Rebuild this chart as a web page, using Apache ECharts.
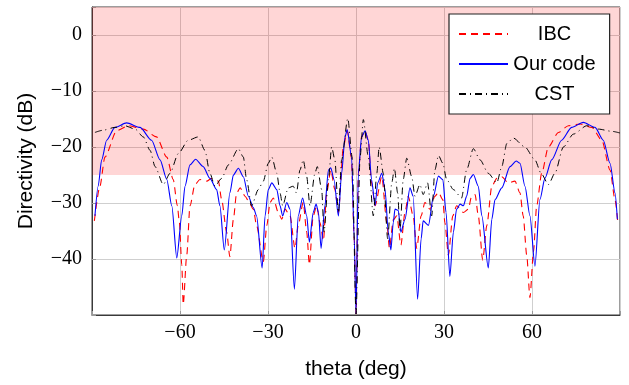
<!DOCTYPE html>
<html>
<head>
<meta charset="utf-8">
<script src="https://cdn.jsdelivr.net/npm/echarts@6/dist/echarts.min.js"></script>
<style>
  html, body { margin: 0; padding: 0; background: #fff; }
  #chart { width: 629px; height: 385px; }
</style>
</head>
<body>
<div id="chart"></div>
<script>
// directivity patterns (theta in deg, directivity in dB)
const thetaIBC = [-89.2, -87.3, -85.6, -81.6, -77.6, -72.5, -68, -64.5, -62.3, -60.9, -60.2, -59.4, -58.9, -57.7, -56.6, -54.9, -53.2, -50.9, -49.2, -46.9, -45.8, -44.1, -43, -41.8, -40.7, -39.5, -37.8, -36.7, -35, -33.9, -31.6, -30.4, -29.3, -28.2, -26.5, -25.3, -24.2, -22.5, -20.8, -19.7, -18, -16.8, -15.9, -14.6, -13.4, -12.3, -11.1, -10, -8.6, -7.2, -6, -4.3, -3, -1.6, -0.6, 0, 0.8, 1.9, 3.1, 4.2, 5.3, 6.5, 8.8, 10.5, 11.4, 12.7, 13.9, 15.3, 16.7, 17.8, 19.5, 20.7, 22.2, 23.5, 25.2, 26.9, 28.1, 29.6, 30.3, 31.5, 33, 34.3, 36.6, 38.3, 39.4, 40.6, 41.7, 43.2, 44.6, 46.3, 48, 49.7, 51.9, 54.2, 55.9, 57, 58.2, 59.3, 60.5, 61.6, 63.3, 65.6, 69, 72.4, 76.4, 80.4, 83.8, 86.6, 88.3, 89.2];
const dirIBC = [-33.2, -27, -21.8, -17.1, -16.2, -16.8, -18.2, -21.8, -25.8, -30.5, -33.5, -41, -48.1, -39.3, -30.5, -26.7, -25.8, -26.1, -25.6, -26.1, -29.4, -35.2, -39.6, -32.9, -28.2, -27.3, -28.8, -29.6, -31.1, -34, -40.5, -34, -29.9, -29.1, -31.7, -32.9, -31.1, -32.3, -38.1, -34, -29.9, -35.2, -41, -32.3, -30.5, -33.5, -36.7, -28.2, -24.1, -27.6, -31.7, -20, -17.1, -21.8, -36.4, -49.8, -24.7, -18.2, -17.1, -18.8, -26.4, -30.5, -25.3, -33.5, -38.1, -33, -32.3, -37.5, -31.7, -28.8, -32.3, -38.1, -32.3, -29.9, -31.1, -28.8, -28.1, -29.4, -33.5, -39.3, -32.3, -30.5, -31.7, -31.1, -28.8, -28.5, -32.3, -40.2, -34, -27, -25.6, -25.3, -26.4, -26.1, -28.2, -32.3, -39.3, -46.9, -38.7, -30.5, -24.7, -20, -17.4, -16.2, -15.9, -16.5, -18.8, -24.1, -29.4, -33.2];

const thetaOurs = [-89, -87.9, -86.7, -85, -82.2, -78.2, -73.6, -69.7, -66.8, -64.5, -62.8, -61.1, -59.4, -58.3, -56.6, -54.7, -52.1, -49.8, -47.5, -46.4, -44.9, -43, -41.8, -40.1, -38.4, -36.7, -35, -33.9, -32, -31, -29.9, -28.7, -27, -25.9, -25, -23.6, -22.5, -21, -19.7, -18.2, -16.8, -15.9, -14.6, -13.6, -12.8, -11.9, -10.6, -9.4, -8.6, -7.5, -6, -4.9, -3.75, -3, -1.5, -0.6, 0, 0.8, 1.9, 3.1, 4.2, 5.3, 6.5, 7.4, 8.8, 9.9, 11, 11.9, 12.7, 13.3, 14.4, 15.3, 16.7, 18.4, 19.5, 21, 22.2, 22.9, 24.7, 26.4, 28.1, 29.6, 30.7, 32, 33.2, 34.3, 35.5, 36.6, 37.7, 38.9, 40, 41.7, 42.9, 45.1, 46.3, 47.4, 49.7, 52.5, 54.6, 55.9, 57.6, 59.3, 61, 62.7, 64.4, 66.7, 70.1, 73.5, 77.5, 81.5, 84.3, 86.6, 88.3, 89.1];
const dirOurs = [-32.3, -27, -22.3, -18.8, -16.5, -15.7, -16.5, -18.8, -22.3, -25.8, -30.5, -39.8, -32.3, -27, -23.2, -22.2, -23.5, -25.6, -27.6, -30.5, -38.4, -28.2, -25, -23.8, -25.3, -28.8, -30.8, -32.3, -41.6, -32.3, -27.6, -26.4, -27.6, -30.5, -32.3, -29.9, -31.1, -45.4, -32.3, -29.1, -32.3, -37, -31.7, -30.2, -31.7, -38.1, -30.5, -24.1, -23.7, -25.8, -32.3, -24.7, -18.2, -16.9, -21.8, -36.4, -49.8, -24.7, -18.2, -17.1, -18.8, -25.8, -30.5, -26.4, -24.7, -27.6, -35.2, -38.4, -33.5, -31.1, -31.3, -35.2, -32.9, -27.3, -28.8, -47.2, -36.4, -33.2, -34, -28.8, -25.2, -25.8, -31.7, -43.1, -35.2, -31.1, -30.2, -30.5, -28.8, -25.6, -24.9, -27, -32.3, -41.6, -32.9, -29.4, -27.3, -23.5, -22.5, -22.9, -27, -32.3, -41.3, -29.4, -25.6, -22.3, -18.8, -16.5, -15.6, -16.5, -18.8, -22.9, -28.2, -32.9];

const thetaCST = [-89, -86.2, -82.2, -78.8, -75.3, -72.5, -70.2, -68.5, -65.7, -63.4, -60.6, -57.2, -53.8, -51.5, -49.8, -48.1, -45.8, -43.5, -40.1, -38.4, -37.3, -35.6, -33.3, -31.6, -29.9, -28.7, -27, -25.9, -25, -23.1, -21.4, -20.3, -19.1, -18, -16.8, -15.7, -14, -13.2, -11.7, -10.9, -9.4, -8.3, -7.2, -6, -4.9, -2.8, -1.3, 0, 1.4, 2.5, 4.2, 5.9, 7.1, 7.9, 9.3, 10.8, 12.2, 13.1, 14.2, 15, 16.1, 17.3, 19, 20.1, 21.8, 22.9, 24.4, 25.8, 26.9, 28.1, 29.6, 30.9, 33.2, 36, 37.7, 40, 42.3, 45.1, 48, 49.7, 51.4, 53.6, 57.6, 61, 63.1, 65.6, 67.8, 70.7, 74.1, 78.7, 82.6, 87.2, 90];
const dirCST = [-17.4, -17, -16.5, -16.2, -16.8, -18.2, -20.6, -23.5, -26.7, -24.7, -21.2, -18.8, -18.2, -20.6, -24.7, -27, -25.6, -23.2, -20.3, -21.8, -25.8, -30.5, -27.6, -26.1, -22.9, -21.8, -24.7, -28.2, -30.5, -27.3, -27, -28.2, -24.1, -22.3, -25.3, -30.5, -24.7, -23.5, -27.6, -35.2, -25.8, -20, -22.3, -31.7, -22.3, -14.9, -21.8, -49.8, -21.8, -15.1, -21.8, -32.3, -24.7, -20, -24.7, -36.4, -26.4, -23.8, -28.2, -34.9, -25.8, -22, -25.3, -28.8, -26.7, -28.5, -26.4, -32.3, -24.1, -21.5, -22.9, -25.8, -27.6, -29.1, -24.1, -20.3, -22.3, -24.7, -26.4, -23.5, -19.4, -18.4, -20, -22.3, -24.7, -26.7, -24.7, -20, -17.7, -16.2, -16.8, -17.2, -17.5];

const seriesNames = ['IBC', 'Our code', 'CST'];
const xTicks = [-60, -30, 0, 30, 60];
const yTicks = [-40, -30, -20, -10, 0];
const shadeFrom = -25;

const zip = (xs, ys) => xs.map((x, i) => [x, ys[i]]);
const fmtNum = v => (v < 0 ? '\u2212' + Math.abs(v) : String(v));

const chart = echarts.init(document.getElementById('chart'));
const serif = '"Liberation Serif", "DejaVu Serif", serif';
const sans = '"Liberation Sans", "DejaVu Sans", sans-serif';

chart.setOption({
  animation: false,
  grid: {
    left: 92, top: 7, width: 528, height: 314,
    show: true, borderColor: '#3a3a3a', borderWidth: 1
  },
  legend: {
    left: 449, top: 14,
    orient: 'vertical',
    padding: [10, 14, 10, 9],
    itemGap: 10,
    itemWidth: 49, itemHeight: 14,
    backgroundColor: '#fff',
    borderColor: '#222', borderWidth: 1.2,
    borderRadius: 0,
    data: seriesNames,
    itemStyle: { opacity: 0 },
    formatter: n => '{t|' + n + '}',
    textStyle: {
      rich: { t: { width: 83, align: 'center', fontSize: 20, fontFamily: sans, color: '#000' } }
    }
  },
  xAxis: {
    type: 'value', min: -90, max: 90, interval: 30,
    name: 'theta (deg)', nameLocation: 'middle', nameGap: 44,
    nameTextStyle: { fontSize: 21, fontFamily: sans, color: '#000' },
    axisLine: { onZero: false, lineStyle: { color: '#3a3a3a' } },
    axisTick: { inside: true, length: 4, lineStyle: { color: '#999' } },
    axisLabel: {
      margin: 8, fontSize: 20, fontFamily: serif, color: '#000',
      formatter: v => (xTicks.includes(v) ? fmtNum(v) : '')
    },
    splitLine: { lineStyle: { color: '#cfcfcf', width: 1 } }
  },
  yAxis: {
    type: 'value', min: -50, max: 5, interval: 10,
    name: 'Directivity (dB)', nameLocation: 'middle', nameGap: 55,
    nameTextStyle: { fontSize: 21, fontFamily: sans, color: '#000' },
    axisLine: { show: true, onZero: false, lineStyle: { color: '#3a3a3a' } },
    axisTick: { show: true, inside: true, length: 4, lineStyle: { color: '#999' } },
    axisLabel: {
      margin: 10, fontSize: 20, fontFamily: serif, color: '#000',
      formatter: v => (yTicks.includes(v) ? fmtNum(v) : '')
    },
    splitLine: { lineStyle: { color: '#cfcfcf', width: 1 } }
  },
  series: [
    {
      name: seriesNames[0], type: 'line', data: zip(thetaIBC, dirIBC),
      lineStyle: { color: '#ff0000', width: 1.1, type: [7, 5] },
      itemStyle: { color: '#ff0000' },
      markArea: {
        silent: true,
        itemStyle: { color: 'rgba(255,0,0,0.16)' },
        data: [[{ yAxis: shadeFrom }, { yAxis: 5 }]]
      }
    },
    {
      name: seriesNames[1], type: 'line', data: zip(thetaOurs, dirOurs),
      lineStyle: { color: '#0000ff', width: 1.1 },
      itemStyle: { color: '#0000ff' }
    },
    {
      name: seriesNames[2], type: 'line', data: zip(thetaCST, dirCST),
      lineStyle: { color: '#000', width: 1, type: [7, 4, 1, 4] },
      itemStyle: { color: '#000' }
    }
  ].map(s => ({ ...s, symbol: 'none', smooth: 0.25, smoothMonotone: 'x' }))
});
</script>
</body>
</html>
